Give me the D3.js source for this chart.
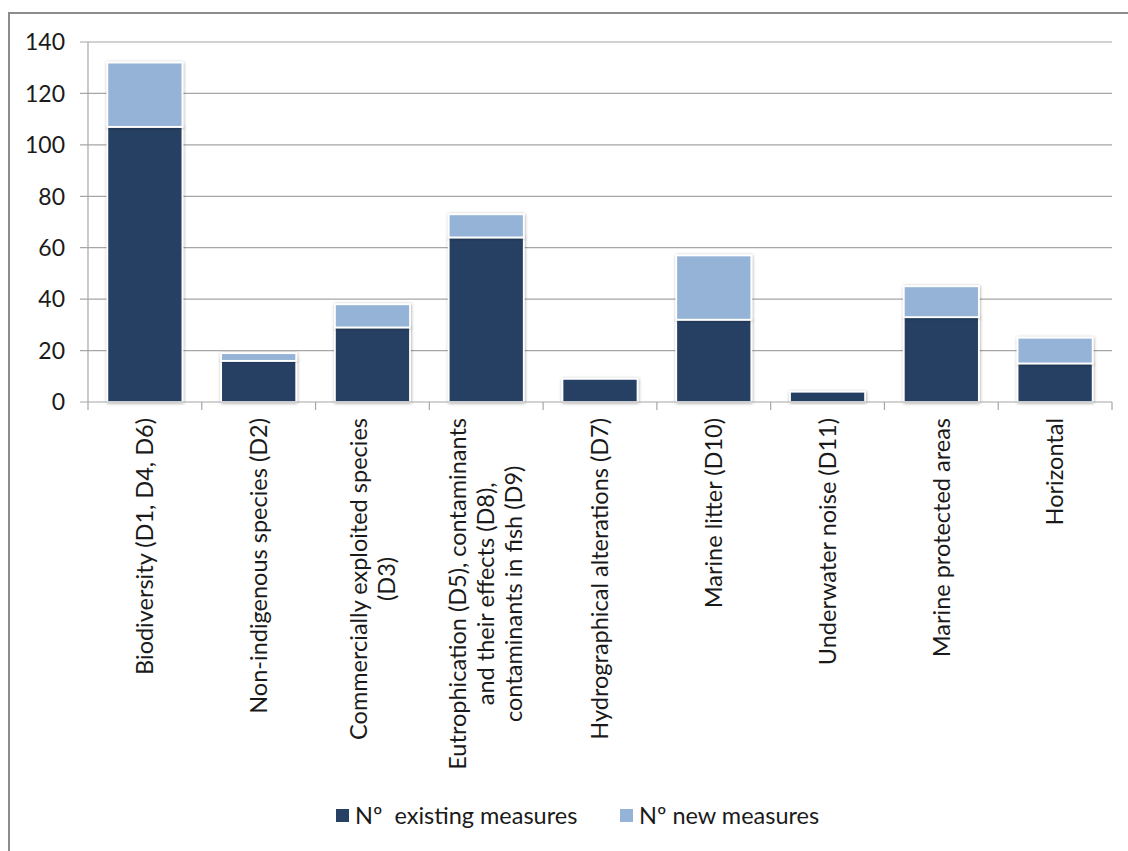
<!DOCTYPE html>
<html>
<head>
<meta charset="utf-8">
<script src="https://cdn.jsdelivr.net/npm/d3@7/dist/d3.min.js"></script>
<style>
  html, body { margin: 0; padding: 0; background: #fff; }
  svg { display: block; font-family: Lato, "Open Sans", sans-serif; }
</style>
</head>
<body>
<div id="chart"></div>
<script>
// Stacked column chart - measures per descriptor

const categories = [
    ['Biodiversity (D1, D4, D6)'],
    ['Non-indigenous species (D2)'],
    ['Commercially exploited species', '(D3)'],
    ['Eutrophication (D5), contaminants', 'and their effects (D8),', 'contaminants in fish (D9)'],
    ['Hydrographical alterations (D7)'],
    ['Marine litter (D10)'],
    ['Underwater noise (D11)'],
    ['Marine protected areas'],
    ['Horizontal']
];
const existingMeasures = [107, 16, 29, 64, 9, 32, 4, 33, 15];
const newMeasures = [25, 3, 9, 9, 0, 25, 0, 12, 10];
const seriesNames = ['Nº  existing measures', 'Nº new measures'];
const seriesColors = ['#264163', '#95b3d7'];
const yTicks = [0, 20, 40, 60, 80, 100, 120, 140];

function drawChart() {
    const width = 1128;
    const height = 851;
    const plot = { left: 88, right: 1112, top: 42, bottom: 402 };

    const svg = d3.select('#chart').append('svg')
        .attr('width', width)
        .attr('height', height);

    // soft shadow behind bars
    const filter = svg.append('defs').append('filter')
        .attr('id', 'shadow')
        .attr('x', '-20%').attr('y', '-20%')
        .attr('width', '140%').attr('height', '140%');
    filter.append('feDropShadow')
        .attr('dx', 0.5).attr('dy', 0.5)
        .attr('stdDeviation', 1.6)
        .attr('flood-color', '#000')
        .attr('flood-opacity', 0.35);

    // outer chart frame (runs off the right and bottom edges)
    svg.append('rect')
        .attr('x', 9).attr('y', 13)
        .attr('width', 1140).attr('height', 860)
        .attr('fill', 'none')
        .attr('stroke', '#8c8c8c')
        .attr('stroke-width', 2);

    const keys = categories.map((d, i) => i);

    const x = d3.scaleBand()
        .domain(keys)
        .range([plot.left, plot.right])
        .paddingInner(0.34)
        .paddingOuter(0.17);

    const y = d3.scaleLinear()
        .domain([0, 140])
        .range([plot.bottom, plot.top]);

    // gridlines + y tick marks
    svg.append('g')
        .selectAll('line')
        .data(yTicks.filter(t => t > 0))
        .enter()
        .append('line')
        .attr('x1', plot.left - 8)
        .attr('x2', plot.right)
        .attr('y1', d => y(d))
        .attr('y2', d => y(d))
        .attr('stroke', '#a6a6a6')
        .attr('stroke-width', 1.2);

    // y tick labels
    svg.append('g')
        .selectAll('text')
        .data(yTicks)
        .enter()
        .append('text')
        .attr('x', 65)
        .attr('y', d => y(d))
        .attr('dy', '0.36em')
        .attr('text-anchor', 'end')
        .attr('font-size', '23px')
        .attr('fill', '#1a1a1a')
        .text(d => d);

    // y axis line
    svg.append('line')
        .attr('x1', plot.left).attr('x2', plot.left)
        .attr('y1', plot.top).attr('y2', plot.bottom)
        .attr('stroke', '#a6a6a6')
        .attr('stroke-width', 1.2);

    // stacked bars
    const rows = keys.map(i => ({ key: i, existing: existingMeasures[i], added: newMeasures[i] }));
    const stack = d3.stack().keys(['existing', 'added']);
    const layers = stack(rows);

    svg.append('g')
        .selectAll('g')
        .data(layers)
        .enter()
        .append('g')
        .attr('fill', (d, i) => seriesColors[i])
        .selectAll('rect')
        .data(d => d.filter(s => s[1] - s[0] > 0))
        .enter()
        .append('rect')
        .attr('x', d => x(d.data.key))
        .attr('width', x.bandwidth())
        .attr('y', d => y(d[1]))
        .attr('height', d => y(d[0]) - y(d[1]))
        .attr('stroke', '#fff')
        .attr('stroke-width', 1.8)
        .attr('filter', 'url(#shadow)');

    // x axis line and tick marks at band edges
    svg.append('line')
        .attr('x1', plot.left - 8).attr('x2', plot.right)
        .attr('y1', plot.bottom).attr('y2', plot.bottom)
        .attr('stroke', '#a6a6a6')
        .attr('stroke-width', 1.2);

    const step = x.step();
    const edges = d3.range(categories.length + 1).map(i => plot.left + i * step);
    svg.append('g')
        .selectAll('line')
        .data(edges)
        .enter()
        .append('line')
        .attr('x1', d => d).attr('x2', d => d)
        .attr('y1', plot.bottom).attr('y2', plot.bottom + 8)
        .attr('stroke', '#a6a6a6')
        .attr('stroke-width', 1.2);

    // rotated category labels, lines centred within the block
    const lineGap = 28;
    const labels = svg.append('g')
        .selectAll('g')
        .data(categories)
        .enter()
        .append('g')
        .attr('transform', (d, i) => `translate(${x(i) + x.bandwidth() / 2},418) rotate(-90)`);

    labels.each(function (lines) {
        const g = d3.select(this);
        const texts = g.selectAll('text')
            .data(lines)
            .enter()
            .append('text')
            .attr('font-size', '23.5px')
            .attr('fill', '#1a1a1a')
            .attr('text-anchor', 'middle')
            .attr('dy', '0.35em')
            .attr('y', (d, j) => (j - (lines.length - 1) / 2) * lineGap)
            .text(d => d);
        const maxW = d3.max(texts.nodes(), n => n.getComputedTextLength());
        texts.attr('x', -maxW / 2);
    });

    // legend
    const legendItems = [
        { name: seriesNames[0], color: seriesColors[0], x: 336 },
        { name: seriesNames[1], color: seriesColors[1], x: 620 }
    ];
    const legend = svg.append('g')
        .selectAll('g')
        .data(legendItems)
        .enter()
        .append('g')
        .attr('transform', d => `translate(${d.x},816)`);

    legend.append('rect')
        .attr('x', 0).attr('y', -7)
        .attr('width', 13).attr('height', 13)
        .attr('fill', d => d.color);

    legend.append('text')
        .attr('x', 19)
        .attr('dy', '0.36em')
        .attr('font-size', '23.5px')
        .attr('fill', '#1a1a1a')
        .style('white-space', 'pre')
        .text(d => d.name);
}

drawChart();
</script>
</body>
</html>
